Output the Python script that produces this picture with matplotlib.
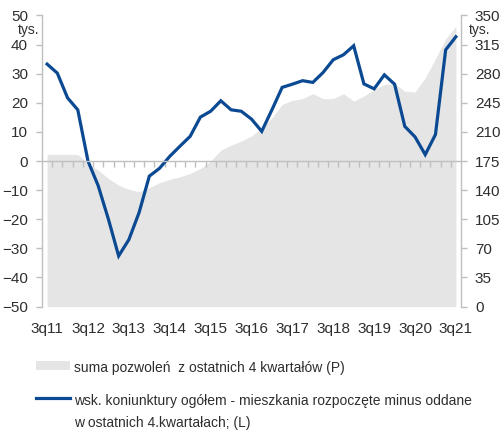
import numpy as np
import matplotlib
matplotlib.use("Agg")
import matplotlib.pyplot as plt

FONT = ['Liberation Sans', 'DejaVu Sans']
plt.rcParams['font.family'] = FONT

# ---------------- data ----------------
quarters = ['3q11', '4q11', '1q12', '2q12', '3q12', '4q12', '1q13', '2q13', '3q13', '4q13',
            '1q14', '2q14', '3q14', '4q14', '1q15', '2q15', '3q15', '4q15', '1q16', '2q16',
            '3q16', '4q16', '1q17', '2q17', '3q17', '4q17', '1q18', '2q18', '3q18', '4q18',
            '1q19', '2q19', '3q19', '4q19', '1q20', '2q20', '3q20', '4q20', '1q21', '2q21', '3q21']
tick_labels = ['3q11', '3q12', '3q13', '3q14', '3q15', '3q16', '3q17', '3q18', '3q19', '3q20', '3q21']

permits = [183, 183, 183, 183, 172, 164, 154, 146, 141, 138,
           143, 149, 153, 156, 160, 166, 175, 188, 194, 199,
           205, 215, 227, 243, 248, 250, 256, 250, 250, 256,
           247, 253, 261, 267, 268, 259, 258, 275, 298, 322, 337]

sentiment = [33.3, 30.2, 21.7, 17.6, 0.0, -8.5, -20.0, -32.6, -27.0, -17.7,
             -5.2, -2.5, 1.6, 5.1, 8.5, 15.1, 17.1, 20.7, 17.6, 17.1,
             14.4, 10.2, 17.6, 25.3, 26.4, 27.6, 27.0, 30.4, 34.8, 36.5,
             39.6, 26.5, 24.8, 29.6, 26.4, 11.9, 8.3, 2.2, 9.1, 38.2, 42.7]

label_area = 'suma pozwoleń  z ostatnich 4 kwartałów (P)'
label_line = 'wsk. koniunktury ogółem - mieszkania rozpoczęte minus oddane\nw ostatnich 4.kwartałach; (L)'

# ---------------- styling ----------------
BLUE = '#0b4a93'
AREA = '#e5e5e5'
AXC = '#bfbfbf'
TXT = '#2e2e2e'

fig = plt.figure(figsize=(5.0, 4.3), dpi=100)
ax = fig.add_axes([0.084, 0.287, 0.838, 0.677])
ax2 = ax.twinx()
ax.set_zorder(ax2.get_zorder() + 1)
ax.patch.set_visible(False)

x = np.arange(len(quarters))

fill = ax2.fill_between(x, 0, permits, color=AREA, lw=0, label=label_area)
line, = ax.plot(x, sentiment, color=BLUE, lw=2.3, solid_joinstyle='miter', label=label_line)

ax.set_xlim(-0.5, len(quarters) - 0.5)
ax.set_ylim(-50, 50)
ax2.set_ylim(0, 350)
ax.set_yticks(np.arange(-50, 51, 10))
ax2.set_yticks(np.arange(0, 351, 35))

for a in (ax, ax2):
    for s in ('top', 'bottom'):
        a.spines[s].set_visible(False)
ax2.spines['left'].set_visible(False)
ax.spines['right'].set_visible(False)
ax.spines['left'].set_color(AXC)
ax2.spines['right'].set_color(AXC)
ax.spines['left'].set_linewidth(1.0)
ax2.spines['right'].set_linewidth(1.0)

ax.tick_params(axis='y', length=4, width=1, color=AXC, pad=6, labelsize=11, labelcolor=TXT)
ax2.tick_params(axis='y', length=4, width=1, color=AXC, pad=6, labelsize=11, labelcolor=TXT)

# zero line with category ticks
ax.spines['bottom'].set_visible(True)
ax.spines['bottom'].set_position(('data', 0))
ax.spines['bottom'].set_color(AXC)
ax.spines['bottom'].set_linewidth(1.0)
ax.set_xticks([])
ax.set_xticks(np.arange(0.5, len(quarters) - 1, 1), minor=True)
ax.tick_params(axis='x', which='minor', length=4, width=1, color=AXC, direction='out')

sec = ax.secondary_xaxis('bottom')
sec.spines['bottom'].set_visible(False)
sec.set_xticks([quarters.index(t) for t in tick_labels])
sec.set_xticklabels(tick_labels)
sec.tick_params(axis='x', length=0, pad=11, labelsize=11, labelcolor=TXT)

fig.text(29 / 500, 1 - 30 / 430, 'tys.', ha='center', va='center', fontsize=10, color=TXT)
fig.text(480 / 500, 1 - 30 / 430, 'tys.', ha='center', va='center', fontsize=10, color=TXT)

leg = fig.legend(handles=[fill, line], labels=[label_area, label_line],
                 loc='upper left', bbox_to_anchor=(0.072, 0.161), frameon=False,
                 fontsize=10, handlelength=2.45, handleheight=0.65, handletextpad=0.3,
                 labelspacing=1.35, borderaxespad=0, borderpad=0)
for t in leg.get_texts():
    t.set_color(TXT)
    t.set_linespacing(1.75)
# align the line handle with the first line of its two-line label
for col in leg._legend_handle_box.get_children():
    for hp in col.get_children():
        hp.align = 'top'

fig.savefig('out.png', dpi=100)
